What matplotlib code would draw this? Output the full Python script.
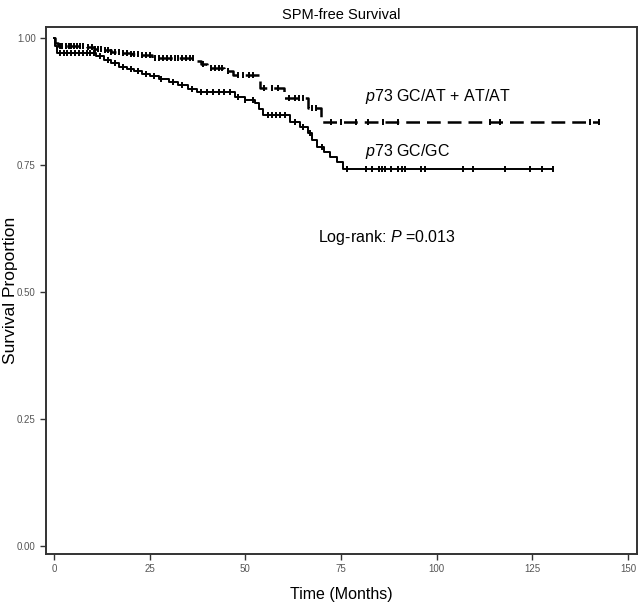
import numpy as np
import matplotlib
matplotlib.use("Agg")
import matplotlib.pyplot as plt

plt.rcParams['font.family'] = ['Liberation Sans', 'DejaVu Sans']
plt.rcParams['mathtext.fontset'] = 'custom'
plt.rcParams['mathtext.rm'] = 'Liberation Sans'
plt.rcParams['mathtext.it'] = 'Liberation Sans:italic'

# Kaplan-Meier steps (months, survival proportion)
t_atat = [0, 0.3, 1.0, 8.5, 10.5, 13, 15, 17.5, 20, 22.5, 25.5, 37, 38.5, 40,
          44.5, 46.8, 53.8, 60.1, 66.4, 69.8, 142.4]
s_atat = [1.0, 0.990, 0.985, 0.982, 0.979, 0.976, 0.973, 0.971, 0.969, 0.966,
          0.961, 0.955, 0.948, 0.941, 0.936, 0.927, 0.902, 0.882, 0.862, 0.835, 0.835]

t_gcgc = [0, 0.3, 0.8, 11, 13, 15, 17, 19, 21, 23, 25, 27.5, 30, 32.5, 35, 37.4,
          47.2, 50, 52.6, 53.5, 54.5, 61.7, 64.2, 66.3, 67.5, 68.7, 70.5, 72.2,
          74, 75.4, 130.4]
s_gcgc = [1.0, 0.985, 0.971, 0.964, 0.957, 0.950, 0.944, 0.940, 0.935, 0.929,
          0.926, 0.920, 0.913, 0.907, 0.900, 0.893, 0.884, 0.878, 0.872, 0.860,
          0.848, 0.835, 0.825, 0.813, 0.800, 0.785, 0.776, 0.766, 0.755, 0.742, 0.742]

# censored observations
c_atat = [1.5, 2.2, 3, 3.8, 4.5, 5.2, 6, 6.8, 7.5, 9, 9.8, 10.6, 11.5, 12.3,
          13.2, 14, 15, 16, 17, 18, 19, 20, 21, 22, 23, 24, 25, 26.5, 27.5,
          28.5, 29.5, 30.5, 31.5, 32.5, 33.5, 34.5, 35.5, 36.3, 39, 41, 42, 43,
          44, 45.5, 48, 49.5, 51, 52, 55, 57, 58.5, 61.5, 63, 64, 65, 67.5,
          68.5, 72.5, 75, 79, 82, 86, 90, 114, 116.5, 140, 142.4]
c_gcgc = [1.5, 2.5, 3.5, 4.5, 5.5, 6.5, 7.5, 8.5, 9.5, 10.5, 12, 14, 16, 18, 20,
          22, 24, 26, 28, 31, 33.5, 36, 38.5, 40, 41.5, 43, 44.5, 46, 48, 50, 52,
          56, 57, 58, 59, 60.5, 63, 65, 67, 70, 76.5, 81.5, 83, 85, 85.8, 86.6,
          88, 90, 91, 91.8, 96, 97, 107, 109.5, 118, 124.5, 127.5, 130.4]


def surv_at(times, surv, c):
    idx = np.searchsorted(times, c, side='right') - 1
    return np.array(surv)[idx]


fig = plt.figure(figsize=(6.39, 6.12), dpi=100)
ax = fig.add_axes([0.072, 0.095, 0.925, 0.861])

ax.plot(t_atat, s_atat, drawstyle='steps-post', color='black', lw=1.8,
        dashes=(5.5, 2.8))
ax.plot(t_gcgc, s_gcgc, drawstyle='steps-post', color='black', lw=1.4)
ax.plot(c_atat, surv_at(t_atat, s_atat, c_atat), ls='none', marker='|',
        ms=5, mew=1.4, color='black')
ax.plot(c_gcgc, surv_at(t_gcgc, s_gcgc, c_gcgc), ls='none', marker='|',
        ms=5, mew=1.4, color='black')

ax.text(81.4, 0.884, r'$\it{p73}$ GC/AT + AT/AT', fontsize=11.5, va='center')
ax.text(81.4, 0.776, r'$\it{p73}$ GC/GC', fontsize=11.5, va='center')
ax.text(69, 0.608, r'Log-rank: $\it{P}$ =0.013', fontsize=11.5, va='center')

ax.set_xlim(-2.1, 152.4)
ax.set_ylim(-0.016, 1.022)
ax.set_xticks([0, 25, 50, 75, 100, 125, 150])
ax.set_yticks([0, 0.25, 0.5, 0.75, 1.0])
ax.set_yticklabels(['0.00', '0.25', '0.50', '0.75', '1.00'])
ax.tick_params(labelsize=7, length=4, width=1, color='#333333',
               labelcolor='#555555')
for sp in ax.spines.values():
    sp.set_linewidth(1.4)
    sp.set_color('#333333')

ax.set_title('SPM-free Survival', fontsize=10.5, pad=6)
ax.set_xlabel('Time (Months)', fontsize=11.5, labelpad=9)
ax.set_ylabel('Survival Proportion', fontsize=12.5)
ax.yaxis.set_label_coords(-0.047, 0.5)

fig.savefig('out.png', dpi=100)
